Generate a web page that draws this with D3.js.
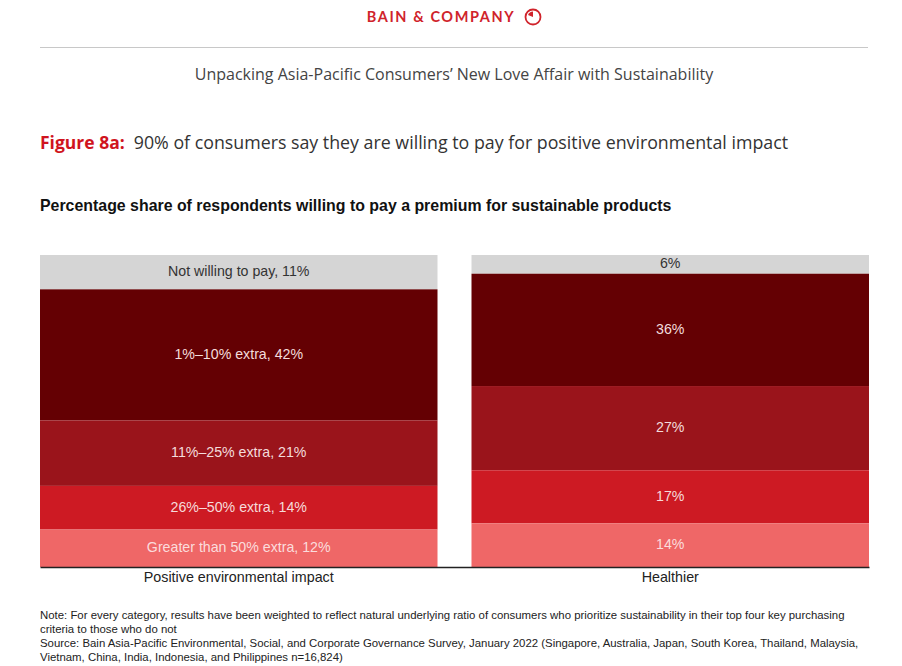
<!DOCTYPE html>
<html>
<head>
<meta charset="utf-8">
<script src="https://cdn.jsdelivr.net/npm/d3@7/dist/d3.min.js"></script>
<style>
  html, body { margin: 0; padding: 0; background: #fff; }
  svg { display: block; }
</style>
</head>
<body>
<script>
// ---- data ----
const categories = ["Positive environmental impact", "Healthier"];
const segmentNames = ["Not willing to pay", "1%–10% extra", "11%–25% extra", "26%–50% extra", "Greater than 50% extra"];
const envValues = [11, 42, 21, 14, 12];
const healthValues = [6, 36, 27, 17, 14];
const segmentColors = ["#d5d5d5", "#640003", "#9a141b", "#cd1a23", "#ef6767"];
const labelColors = ["#333333", "#f3dcdc", "#f3dcdc", "#f6dada", "#fbdcdc"];

const W = 902, H = 666;
const svg = d3.select("body").append("svg").attr("width", W).attr("height", H);

// ---- header ----
svg.append("text").attr("x", 441).attr("y", 22).attr("text-anchor", "middle")
  .attr("font-family", "Lato, 'Open Sans', sans-serif").attr("font-weight", 700)
  .attr("font-size", 14.5).attr("letter-spacing", 1.6).attr("fill", "#d0232b")
  .text("BAIN & COMPANY");
svg.append("circle").attr("cx", 533).attr("cy", 17).attr("r", 7.5)
  .attr("fill", "none").attr("stroke", "#d0232b").attr("stroke-width", 1.8);
svg.append("path").attr("d", "M533,17 L533,11.5 A5.5,5.5 0 0 0 528,15 Z").attr("fill", "#d0232b");

svg.append("line").attr("x1", 40).attr("x2", 868).attr("y1", 47.5).attr("y2", 47.5)
  .attr("stroke", "#c8c8c8").attr("stroke-width", 1);

svg.append("text").attr("x", 454).attr("y", 80).attr("text-anchor", "middle")
  .attr("font-family", "'Open Sans', sans-serif").attr("font-size", 16)
  .attr("fill", "#444").text("Unpacking Asia-Pacific Consumers’ New Love Affair with Sustainability");

const title = svg.append("text").attr("x", 40).attr("y", 149)
  .attr("font-family", "'Open Sans', sans-serif").attr("font-size", 17.5);
title.append("tspan").attr("font-weight", 700).attr("fill", "#d0141e").text("Figure 8a:");
title.append("tspan").attr("fill", "#333").attr("dx", 9).attr("font-size", 17.8)
  .text("90% of consumers say they are willing to pay for positive environmental impact");

svg.append("text").attr("x", 40).attr("y", 211)
  .attr("font-family", "'Liberation Sans', Arial, sans-serif").attr("font-weight", 700)
  .attr("font-size", 15.9).attr("fill", "#111")
  .text("Percentage share of respondents willing to pay a premium for sustainable products");

// ---- chart ----
const rows = categories.map((c, i) => {
  const vals = i === 0 ? envValues : healthValues;
  const o = { category: c };
  segmentNames.forEach((s, j) => o[s] = vals[j]);
  return o;
});

const x = d3.scaleBand().domain(categories).range([40, 869])
  .paddingInner(34 / 431.5).paddingOuter(0);
const y = d3.scaleLinear().domain([0, 100]).range([255, 567]);

const stack = d3.stack().keys(segmentNames);
const series = stack(rows);

const g = svg.append("g");
series.forEach((s, j) => {
  s.forEach(d => {
    const cat = d.data.category;
    const x0 = x(cat), bw = x.bandwidth();
    const y0 = y(d[0]), y1 = y(d[1]);
    g.append("rect").attr("x", x0).attr("y", y0).attr("width", bw).attr("height", y1 - y0)
      .attr("fill", segmentColors[j]);
    const v = d.data[s.key];
    const label = cat === categories[0] ? `${s.key}, ${v}%` : `${v}%`;
    g.append("text").attr("x", x0 + bw / 2).attr("y", (y0 + y1) / 2 - 1)
      .attr("dy", "0.35em").attr("text-anchor", "middle")
      .attr("font-family", "'Liberation Sans', Arial, sans-serif").attr("font-size", 14.2)
      .attr("fill", labelColors[j]).text(label);
  });
});

// axis
const axis = svg.append("g").attr("transform", "translate(0,567)")
  .call(d3.axisBottom(x).tickSize(0).tickPadding(5));
axis.select(".domain").attr("stroke", "#222").attr("stroke-width", 1.5);
axis.selectAll("text").attr("font-family", "'Liberation Sans', Arial, sans-serif")
  .attr("font-size", 14.3).attr("fill", "#222");

// ---- notes ----
const notes = [
  "Note: For every category, results have been weighted to reflect natural underlying ratio of consumers who prioritize sustainability in their top four key purchasing",
  "criteria to those who do not",
  "Source: Bain Asia-Pacific Environmental, Social, and Corporate Governance Survey, January 2022 (Singapore, Australia, Japan, South Korea, Thailand, Malaysia,",
  "Vietnam, China, India, Indonesia, and Philippines n=16,824)"
];
svg.append("g").selectAll("text").data(notes).join("text")
  .attr("x", 40).attr("y", (d, i) => 619 + i * 14)
  .attr("font-family", "'Liberation Sans', Arial, sans-serif").attr("font-size", 11.4)
  .attr("fill", "#222").text(d => d);
</script>
</body>
</html>
